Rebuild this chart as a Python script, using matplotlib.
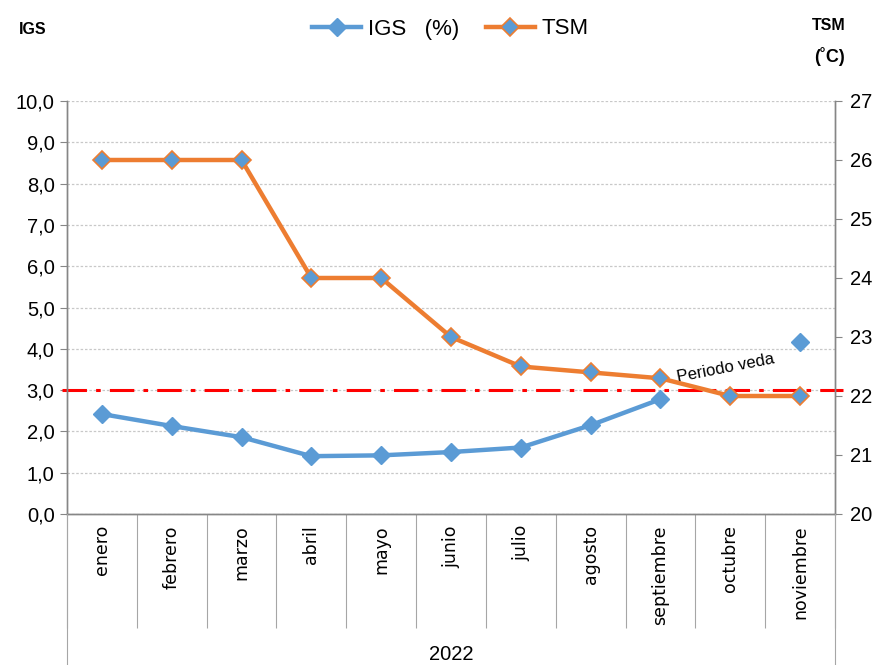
import numpy as np
import matplotlib
matplotlib.use("Agg")
import matplotlib.pyplot as plt
from matplotlib.lines import Line2D

months = ["enero", "febrero", "marzo", "abril", "mayo", "junio", "julio",
          "agosto", "septiembre", "octubre", "noviembre"]
igs = [2.42, 2.13, 1.86, 1.40, 1.42, 1.50, 1.61, 2.15, 2.78, np.nan, 4.16]
tsm = [26.0, 26.0, 26.0, 24.0, 24.0, 23.0, 22.5, 22.4, 22.3, 22.0, 22.0]
year_label = "2022"
veda_level = 3.0
left_ticks = [0, 1, 2, 3, 4, 5, 6, 7, 8, 9, 10]
right_ticks = [20, 21, 22, 23, 24, 25, 26, 27]

plt.rcParams["font.family"] = ["Liberation Sans", "DejaVu Sans"]

BLUE = "#5B9BD5"
ORANGE = "#ED7D31"
GRAY = "#868686"

fig = plt.figure(figsize=(8.8, 6.65), dpi=100)
L, R, B, T = 67 / 880, 835 / 880, 1 - 514 / 665, 1 - 101 / 665
ax = fig.add_axes([L, B, R - L, T - B])
ax2 = ax.twinx()

x = np.arange(len(months))
ax.set_xlim(-0.5, len(months) - 0.5)
ax.set_ylim(0, 10)
ax2.set_ylim(20, 27)

# grid
ax.set_yticks(left_ticks)
ax.set_yticklabels([f"{v:.1f}".replace(".", ",") for v in left_ticks])
ax.grid(axis="y", color="#C8C8C8", linestyle=(0, (2, 1.5)), linewidth=0.9)
ax.set_axisbelow(True)
ax2.set_yticks(right_ticks)
ax2.set_yticklabels([str(v) for v in right_ticks])

for a in (ax, ax2):
    a.spines["top"].set_visible(False)
    for s in ("left", "right", "bottom"):
        a.spines[s].set_color(GRAY)
        a.spines[s].set_linewidth(1.0)
ax.tick_params(axis="y", direction="out", length=5, color=GRAY, labelsize=14.5, pad=4)
ax2.tick_params(axis="y", direction="out", length=5, color=GRAY, labelsize=14.5, pad=6)

# category axis
ax.set_xticks(x)
ax.set_xticklabels(months, rotation=90, fontsize=12.5, family="DejaVu Sans", va="top")
ax.tick_params(axis="x", which="major", length=0, pad=8)
ax.set_xticks(np.arange(len(months) + 1) - 0.5, minor=True)
ax.tick_params(axis="x", which="minor", direction="out", length=82, color="#A6A6A6", width=0.8)

# outer frame lines extending to bottom
for xf in (L, R):
    fig.add_artist(Line2D([xf, xf], [0, B], transform=fig.transFigure, color="#A6A6A6", lw=0.8))
fig.text((L + R) / 2, 1 - 655 / 665, year_label, ha="center", va="center", fontsize=14.5)

# series
l1, = ax.plot(x, igs, color=BLUE, lw=3.2, marker="D", markersize=9.5,
              markerfacecolor=BLUE, markeredgecolor=BLUE, zorder=3, label="IGS   (%)")
l2, = ax2.plot(x, tsm, color=ORANGE, lw=3.2, marker="D", markersize=9.5,
               markerfacecolor=BLUE, markeredgecolor=ORANGE, markeredgewidth=1.2,
               zorder=3, label="TSM")

ax.axhline(veda_level, xmin=-0.006, xmax=1.011, color="#FF0000", lw=2.2,
           linestyle=(0, (8, 3, 1.5, 3)), clip_on=False, zorder=2)
ax.text(8.93, 3.52, "Periodo veda", rotation=11, ha="center", va="center",
        fontsize=12, zorder=5)

# header texts
fig.text(33 / 880, 1 - 29 / 665, "IGS", ha="center", va="center", fontsize=11.5, fontweight="bold")
fig.text(829 / 880, 1 - 25 / 665, "TSM", ha="center", va="center", fontsize=11.5, fontweight="bold")
fig.text(829 / 880, 1 - 57 / 665, "(˚C)", ha="center", va="center", fontsize=13, fontweight="bold")

fig.legend(handles=[l1, l2], loc="center", bbox_to_anchor=(0.512, 1 - 29 / 665),
           ncol=2, frameon=False, fontsize=16, handlelength=2.2, columnspacing=1.2,
           handletextpad=0.3)

fig.savefig("out.png", dpi=100)
